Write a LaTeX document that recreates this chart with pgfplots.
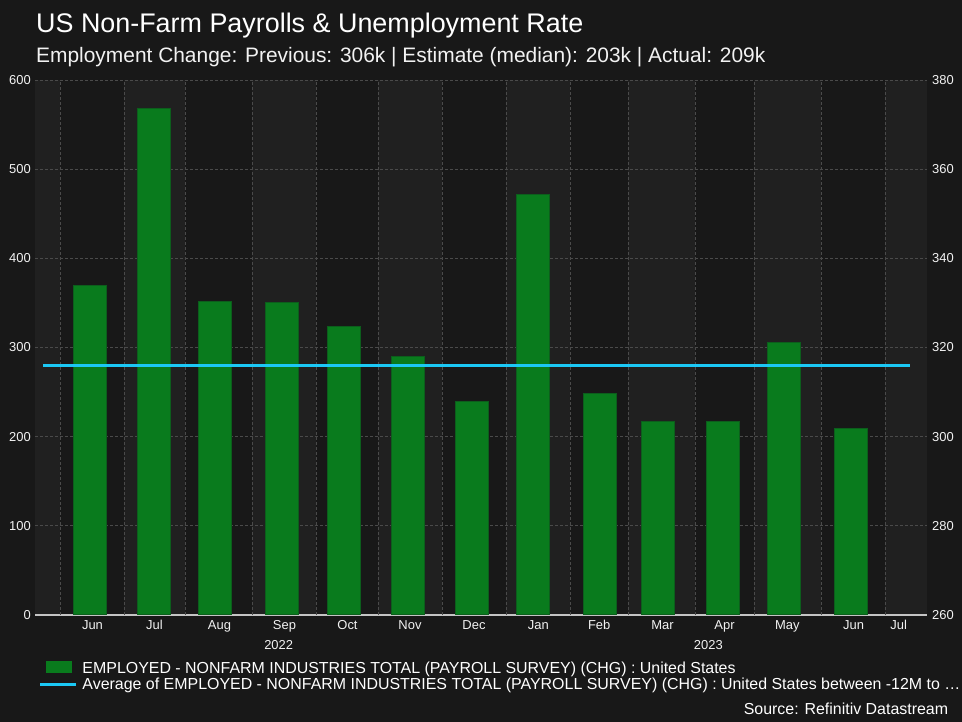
\documentclass[border=0pt]{standalone}
\usepackage{pgfplots}
\pgfplotsset{compat=1.18}
\usepackage{fontspec}
\setmainfont{Liberation Sans}
\definecolor{bgout}{HTML}{181818}
\definecolor{banddark}{HTML}{181818}
\definecolor{bandlight}{HTML}{202020}
\definecolor{gridc}{HTML}{4A4A4A}
\definecolor{barfill}{HTML}{097B1D}
\definecolor{bardraw}{HTML}{0C5E1C}
\definecolor{avgc}{HTML}{1BC8F5}
\definecolor{txt}{HTML}{F2F2F2}
\definecolor{axlc}{HTML}{C4C4C4}
\pgfplotsset{frame/.style={at={(35bp,107bp)}, anchor=south west,
  width=892bp, height=535bp, scale only axis, xmin=35, xmax=927}}
\begin{document}
\begin{tikzpicture}[x=1bp,y=1bp]
\fill[bgout] (0,0) rectangle (962,722);
\node[anchor=base west, inner sep=0, text=white, font=\fontsize{27}{32}\selectfont] at (36,689) {US Non-Farm Payrolls \& Unemployment Rate};
\node[anchor=base west, inner sep=0, text=txt, font=\fontsize{21}{25}\selectfont] at (36,659) {Employment Change: Previous: 306k | Estimate (median): 203k | Actual: 209k};
% background bands
\begin{axis}[frame, ymin=0, ymax=600, hide axis]
\fill[banddark] (axis cs:35,0) rectangle (axis cs:927,600);
\fill[bandlight] (axis cs:35,0) rectangle (axis cs:60,600);
\fill[bandlight] (axis cs:124,0) rectangle (axis cs:185,600);
\fill[bandlight] (axis cs:252,0) rectangle (axis cs:316,600);
\fill[bandlight] (axis cs:378,0) rectangle (axis cs:442,600);
\fill[bandlight] (axis cs:506,0) rectangle (axis cs:570,600);
\fill[bandlight] (axis cs:628,0) rectangle (axis cs:695,600);
\fill[bandlight] (axis cs:754,0) rectangle (axis cs:821,600);
\fill[bandlight] (axis cs:885,0) rectangle (axis cs:927,600);
\end{axis}
\begin{axis}[
  frame, ymin=0, ymax=600,
  axis x line=bottom, axis y line=left,
  x axis line style={draw=axlc, line width=1.5bp, -},
  y axis line style={draw=none},
  ytick={0,100,...,600},
  ymajorgrids=true,
  major grid style={draw=gridc, dash pattern=on 3bp off 2bp, line width=0.8bp},
  xtick={92.5,154.5,219.5,284.5,347.5,410,474,538.3,599.2,662.5,724.5,787.3,853.5,898.7},
  xticklabels={Jun,Jul,Aug,Sep,Oct,Nov,Dec,Jan,Feb,Mar,Apr,May,Jun,Jul},
  extra x ticks={60,124,185,252,316,378,442,506,570,628,695,754,821,885},
  extra x tick labels={},
  extra x tick style={xmajorgrids=true, major tick length=0},
  major tick length=0,
  tick label style={font=\fontsize{13}{15}\selectfont, text=txt},
  xticklabel style={anchor=base, yshift=-15bp, inner sep=0},
  yticklabel style={anchor=east, xshift=-4bp, inner sep=0},
  /pgf/number format/assume math mode=true,
]
\addplot[ybar, bar width=33.4, fill=barfill, draw=bardraw, line width=1bp] coordinates {
(90,370) (154,568) (215,352) (282,350) (344,324) (408,290) (472,239)
(533,472) (600,248) (658,217) (723,217) (784,306) (851,209)};
\addplot[avgc, line width=3bp] coordinates {(43,280) (910,280)};
\end{axis}
\begin{axis}[
  frame, ymin=260, ymax=380,
  axis x line=none, axis y line*=right,
  y axis line style={draw=none},
  ytick={260,280,...,380},
  major tick length=0,
  tick label style={font=\fontsize{13}{15}\selectfont, text=txt},
  yticklabel style={anchor=west, xshift=5bp, inner sep=0},
  /pgf/number format/assume math mode=true,
]
\end{axis}
\node[anchor=base, inner sep=0, text=txt, font=\fontsize{13}{15}\selectfont] at (278.7,72.7) {2022};
\node[anchor=base, inner sep=0, text=txt, font=\fontsize{13}{15}\selectfont] at (708.3,72.7) {2023};
\fill[barfill] (46,49.3) rectangle (71.7,61.3);
\draw[avgc, line width=3bp] (40,37.7) -- (76,37.7);
\node[anchor=base west, inner sep=0, text=white, font=\fontsize{16}{19}\selectfont] at (82.3,48.7) {EMPLOYED - NONFARM INDUSTRIES TOTAL (PAYROLL SURVEY) (CHG) : United States};
\node[anchor=base west, inner sep=0, text=white, font=\fontsize{16}{19}\selectfont] at (82.3,32) {Average of EMPLOYED - NONFARM INDUSTRIES TOTAL (PAYROLL SURVEY) (CHG) : United States between -12M to …};
\node[anchor=base east, inner sep=0, text=white, font=\fontsize{16}{19}\selectfont] at (948.3,7) {Source: Refinitiv Datastream};
\pgfresetboundingbox
\path[use as bounding box] (0,0) rectangle (962,722);
\end{tikzpicture}
\end{document}
